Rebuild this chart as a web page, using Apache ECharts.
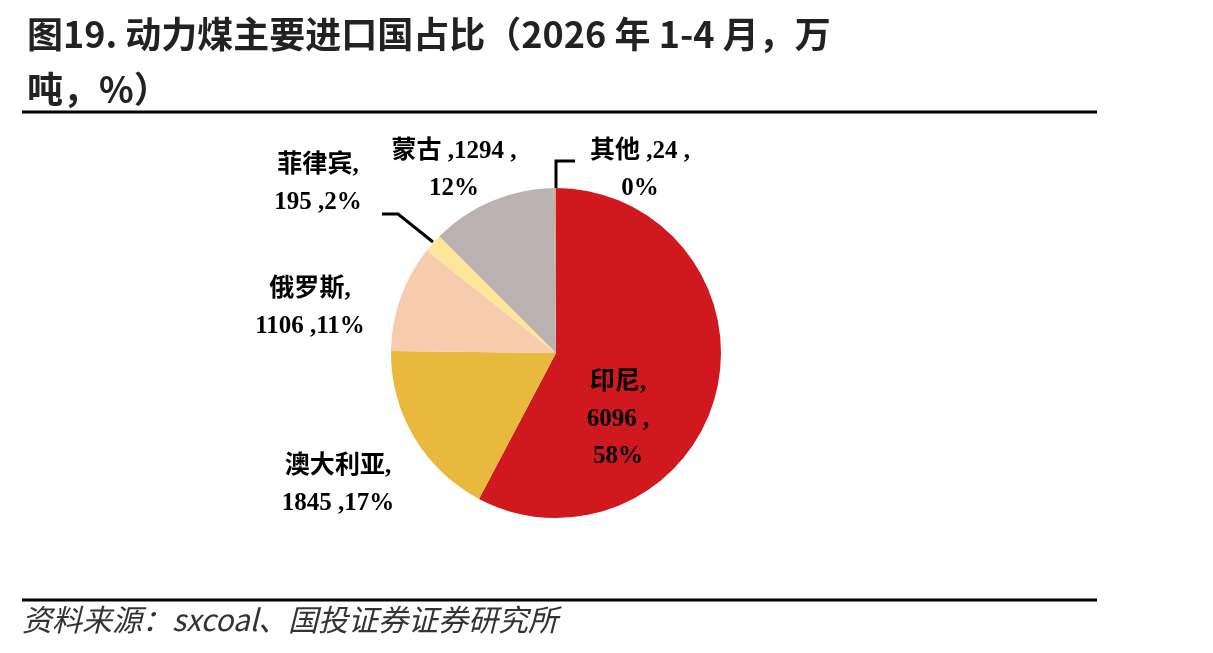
<!DOCTYPE html>
<html>
<head>
<meta charset="utf-8">
<script src="https://cdn.jsdelivr.net/npm/echarts@6/dist/echarts.min.js"></script>
<style>html,body{margin:0;padding:0;background:#fff}#c{width:1213px;height:653px}</style>
</head>
<body>
<div id="c"></div>
<script>
// ---- data ----
var countries = ['印尼', '澳大利亚', '俄罗斯', '菲律宾', '蒙古', '其他'];
var volumes = [6096, 1845, 1106, 195, 1294, 24];
var titleText = '图19. 动力煤主要进口国占比（2026 年 1-4 月，万\n吨，%）';
var sourceText = '资料来源：sxcoal、国投证券证券研究所';

// ---- style / layout ----
var colors = ['#D0181F', '#E8B93C', '#F7CBAD', '#FDE59A', '#BAB1B0', '#CFAA8A'];
// label formats: n = name, v = value, p = percent
var labelFormats = ['{n},\n{v} ,\n{p}%', '{n},\n{v} ,{p}%', '{n},\n{v} ,{p}%', '{n},\n{v} ,{p}%', '{n} ,{v} ,\n{p}%', '{n} ,{v} ,\n{p}%'];
var labelCenters = [[618, 420], [338, 485], [310, 308], [318, 184], [454, 170], [640, 170]];
var leaderLines = [null, null, null, [[433, 242], [398, 214], [382, 214]], null, [[556, 188], [556, 161], [575, 161]]];

var chart = echarts.init(document.getElementById('c'));
var seriesData = countries.map(function (n, i) {
  return {
    name: n,
    value: volumes[i],
    itemStyle: { color: colors[i] },
    labelLine: { show: !!leaderLines[i], lineStyle: { color: '#000', width: 3 } }
  };
});

chart.setOption({
  animation: false,
  backgroundColor: '#fff',
  title: {
    text: titleText,
    left: 22,
    top: 2,
    textStyle: {
      fontFamily: "'Noto Sans CJK SC'",
      fontSize: 36,
      fontWeight: 'bold',
      color: '#222',
      lineHeight: 55
    }
  },
  graphic: [
    { type: 'line', shape: { x1: 22, y1: 112, x2: 1097, y2: 112 }, style: { stroke: '#000', lineWidth: 3 } },
    { type: 'line', shape: { x1: 22, y1: 600, x2: 1097, y2: 600 }, style: { stroke: '#000', lineWidth: 3 } },
    {
      type: 'text', left: 22, top: 605,
      style: {
        text: sourceText,
        fontFamily: "'Noto Sans CJK SC'",
        fontSize: 30,
        fontStyle: 'italic',
        fill: '#333'
      }
    }
  ],
  series: [{
    type: 'pie',
    center: [556, 353],
    radius: 165,
    startAngle: 90,
    clockwise: true,
    percentPrecision: 0,
    avoidLabelOverlap: false,
    itemStyle: { borderWidth: 0 },
    emphasis: { disabled: true },
    label: {
      show: true,
      position: 'outside',
      fontFamily: "'Liberation Serif', 'Noto Sans CJK SC'",
      fontWeight: 'bold',
      fontSize: 25,
      lineHeight: 37,
      color: '#000',
      align: 'center',
      formatter: function (p) {
        return labelFormats[p.dataIndex]
          .replace('{n}', p.name)
          .replace('{v}', p.value)
          .replace('{p}', p.percent);
      }
    },
    labelLayout: function (params) {
      var i = params.dataIndex;
      var out = {
        x: labelCenters[i][0],
        y: labelCenters[i][1],
        align: 'center',
        verticalAlign: 'middle'
      };
      if (leaderLines[i]) out.labelLinePoints = leaderLines[i];
      return out;
    },
    data: seriesData
  }]
});
</script>
</body>
</html>
